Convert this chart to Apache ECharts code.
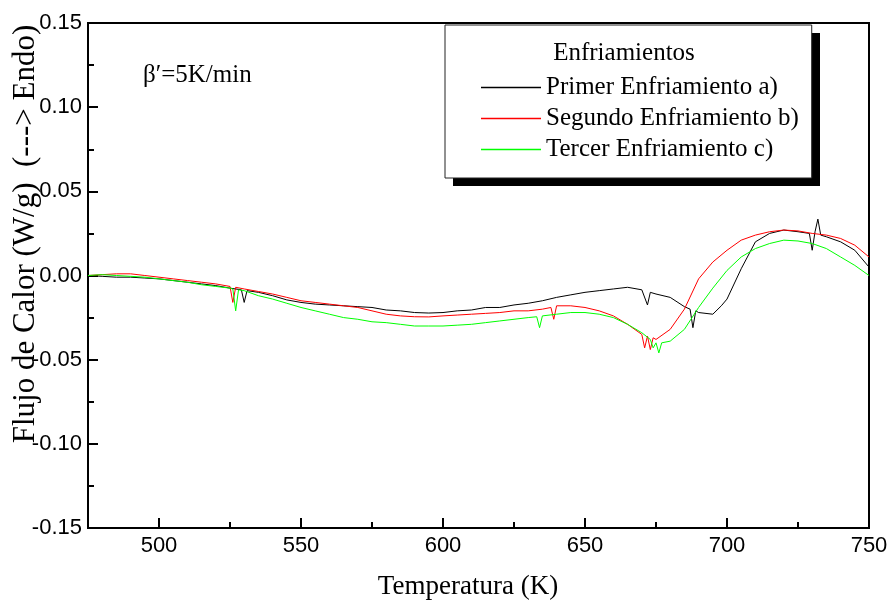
<!DOCTYPE html>
<html>
<head>
<meta charset="utf-8">
<script src="https://cdn.jsdelivr.net/npm/echarts@6/dist/echarts.min.js"></script>
<style>html,body{margin:0;padding:0;background:#fff;}#c{width:893px;height:602px;}</style>
</head>
<body>
<div id="c"></div>
<script>
// ---- Data ----
const xTickValues = [500, 550, 600, 650, 700, 750];
const xMinorTickValues = [525, 575, 625, 675, 725];
const seriesNames = ['Primer Enfriamiento a)', 'Segundo Enfriamiento b)', 'Tercer Enfriamiento c)'];

const primerT = [475,480,485,490,495,500,505,510,515,520,525,529,530,531,535,540,545,550,555,560,565,570,575,580,585,590,595,600,605,610,615,620,625,630,635,640,645,650,655,660,665,670,672,673,675,680,685,687,688,689,690,695,698,700,705,710,715,720,725,729,730,731,732,733,735,740,745,750];
const primerY = [0.000,-0.0005,-0.001,-0.001,-0.0015,-0.002,-0.003,-0.004,-0.005,-0.006,-0.0075,-0.0085,-0.016,-0.009,-0.010,-0.012,-0.0145,-0.016,-0.017,-0.0175,-0.018,-0.0185,-0.019,-0.0205,-0.021,-0.022,-0.0223,-0.022,-0.021,-0.0205,-0.019,-0.019,-0.0175,-0.0165,-0.015,-0.013,-0.0115,-0.010,-0.009,-0.008,-0.007,-0.0085,-0.0175,-0.010,-0.011,-0.013,-0.0185,-0.020,-0.031,-0.021,-0.022,-0.023,-0.018,-0.014,0.004,0.020,0.025,0.027,0.026,0.025,0.015,0.026,0.0335,0.024,0.023,0.020,0.015,0.005];

const segundoT = [475,480,485,490,495,500,505,510,515,520,525,526,527,530,535,540,545,550,555,560,565,570,575,580,585,590,595,600,605,610,615,620,625,630,635,638,639,640,645,650,655,660,665,670,671,672,673,674,675,680,685,690,695,700,705,710,715,720,725,730,735,740,745,750];
const segundoY = [0.000,0.0005,0.001,0.001,0.000,-0.001,-0.002,-0.003,-0.004,-0.005,-0.0065,-0.016,-0.007,-0.008,-0.0095,-0.011,-0.013,-0.015,-0.016,-0.017,-0.018,-0.019,-0.021,-0.023,-0.024,-0.0245,-0.0246,-0.024,-0.0235,-0.023,-0.0225,-0.022,-0.021,-0.021,-0.020,-0.019,-0.026,-0.018,-0.018,-0.019,-0.021,-0.024,-0.029,-0.035,-0.043,-0.036,-0.044,-0.037,-0.038,-0.032,-0.020,-0.002,0.008,0.015,0.021,0.024,0.026,0.027,0.0265,0.025,0.024,0.022,0.018,0.011];

const tercerT = [475,480,485,490,495,500,505,510,515,520,525,526,527,528,530,535,540,545,550,555,560,565,570,575,580,585,590,595,600,605,610,615,620,625,630,633,634,635,640,645,650,655,660,665,670,673,674,675,676,677,680,685,690,695,700,705,710,715,720,725,730,735,740,745,750];
const tercerY = [0.000,0.0005,0.000,-0.0005,-0.001,-0.002,-0.003,-0.004,-0.0055,-0.0065,-0.0075,-0.008,-0.021,-0.0085,-0.009,-0.012,-0.014,-0.0165,-0.019,-0.021,-0.023,-0.025,-0.026,-0.0275,-0.028,-0.029,-0.030,-0.030,-0.030,-0.0295,-0.029,-0.028,-0.027,-0.026,-0.025,-0.0245,-0.031,-0.024,-0.023,-0.022,-0.022,-0.023,-0.025,-0.029,-0.034,-0.038,-0.043,-0.040,-0.046,-0.040,-0.039,-0.032,-0.019,-0.0075,0.003,0.011,0.016,0.019,0.021,0.0205,0.019,0.016,0.011,0.006,0.000];

const pair = (ts, ys) => ts.map((t, i) => [t, ys[i]]);

const SANS = "'Liberation Sans', Arial, sans-serif";
const SERIF = "'Liberation Serif', 'Times New Roman', serif";

const chart = echarts.init(document.getElementById('c'), null, {renderer: 'canvas'});
chart.setOption({
  animation: false,
  backgroundColor: '#fff',
  grid: {left: 88, right: 24, top: 23, bottom: 74, show: true, borderColor: '#000', borderWidth: 2, backgroundColor: 'transparent'},
  xAxis: [{
    type: 'value', min: 475, max: 750, position: 'bottom',
    axisLine: {show: true, onZero: false, lineStyle: {color: '#000', width: 2}},
    axisTick: {show: true, inside: true, length: 10, customValues: xTickValues, lineStyle: {color: '#000', width: 2}},
    axisLabel: {show: true, customValues: xTickValues, color: '#000', fontFamily: SANS, fontSize: 22, margin: 7},
    splitLine: {show: false}
  }, {
    type: 'value', min: 475, max: 750, position: 'bottom', offset: 0,
    axisLine: {show: false, onZero: false},
    axisTick: {show: true, inside: true, length: 6, customValues: xMinorTickValues, lineStyle: {color: '#000', width: 2}},
    axisLabel: {show: false},
    splitLine: {show: false}
  }],
  yAxis: {
    type: 'value', min: -0.15, max: 0.15, interval: 0.05,
    axisLine: {show: true, onZero: false, lineStyle: {color: '#000', width: 2}},
    axisTick: {show: true, inside: true, length: 10, lineStyle: {color: '#000', width: 2}},
    minorTick: {show: true, splitNumber: 2, length: 6, lineStyle: {color: '#000', width: 2}},
    axisLabel: {color: '#000', fontFamily: SANS, fontSize: 22, margin: 6,
      formatter: v => (Math.abs(v) < 1e-9 ? '0.00' : v.toFixed(2))},
    splitLine: {show: false},
    minorSplitLine: {show: false}
  },
  legend: {
    orient: 'vertical',
    left: 445, top: 25,
    padding: [50, 13, 16, 36],
    itemGap: 6,
    icon: 'rect',
    itemWidth: 60, itemHeight: 1.5,
    backgroundColor: '#fff',
    borderColor: '#222', borderWidth: 1,
    textStyle: {color: '#000', fontFamily: SERIF, fontSize: 25},
    data: seriesNames
  },
  series: [
    {name: seriesNames[0], type: 'line', symbol: 'none', data: pair(primerT, primerY), lineStyle: {color: '#000', width: 1}, itemStyle: {color: '#000'}},
    {name: seriesNames[1], type: 'line', symbol: 'none', data: pair(segundoT, segundoY), lineStyle: {color: '#ff0000', width: 1}, itemStyle: {color: '#ff0000'}},
    {name: seriesNames[2], type: 'line', symbol: 'none', data: pair(tercerT, tercerY), lineStyle: {color: '#00ff00', width: 1}, itemStyle: {color: '#00ff00'}}
  ],
  graphic: [
    {type: 'rect', z: 1, shape: {x: 453, y: 33, width: 367, height: 153}, style: {fill: '#000'}},
    {type: 'text', x: 624, y: 53, z: 100, style: {text: 'Enfriamientos', font: '25px ' + SERIF, fill: '#000', textAlign: 'center', textVerticalAlign: 'middle'}},
    {type: 'text', x: 143, y: 75, z: 100, style: {text: 'β\u2032=5K/min', font: '25px ' + SERIF, fill: '#000', textAlign: 'left', textVerticalAlign: 'middle'}},
    {type: 'text', x: 26, y: 234, rotation: Math.PI / 2, z: 100, style: {text: 'Flujo de Calor (W/g)  (---> Endo)', font: '31px ' + SERIF, fill: '#000', textAlign: 'center', textVerticalAlign: 'middle'}},
    {type: 'text', x: 468, y: 587, z: 100, style: {text: 'Temperatura (K)', font: '27px ' + SERIF, fill: '#000', textAlign: 'center', textVerticalAlign: 'middle'}}
  ]
});
</script>
</body>
</html>
